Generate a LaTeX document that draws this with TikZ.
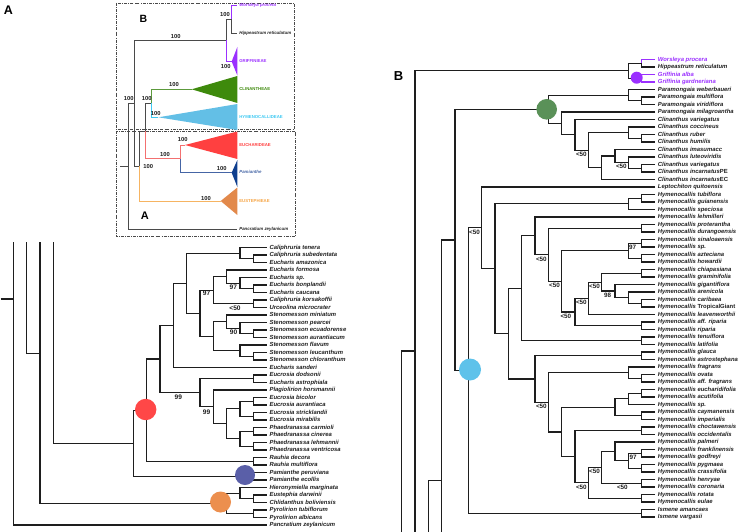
\documentclass[tikz,border=0pt]{standalone}
\usepackage{fontspec}
\setmainfont{Liberation Sans}
\definecolor{tl}{HTML}{1E1E1E}
\definecolor{pur}{HTML}{9B30FF}
\definecolor{cred}{HTML}{FF4747}
\definecolor{cblue}{HTML}{5A5FA8}
\definecolor{corg}{HTML}{EC8F4E}
\definecolor{cgrn}{HTML}{5A9158}
\definecolor{ccyan}{HTML}{5EC2EA}
\definecolor{igray}{HTML}{4A4A4A}
\definecolor{igl}{HTML}{5C9A3C}
\definecolor{igf}{HTML}{3E8A0C}
\definecolor{icl}{HTML}{3FC9F2}
\definecolor{icf}{HTML}{63BFE6}
\definecolor{irl}{HTML}{F37070}
\definecolor{irf}{HTML}{FF4040}
\definecolor{inl}{HTML}{4565A5}
\definecolor{inf}{HTML}{0E3E8E}
\definecolor{iol}{HTML}{F6B462}
\definecolor{iof}{HTML}{E2894B}
\definecolor{iot}{HTML}{F5A445}
\newcommand\tbr[3][]{\draw[br,#1] (#2) |- (#3.west);}
\newcommand\cl[4][]{\draw[br,#1] (#3.west) -| (#2) |- (#4.west);}
\newcommand\ibrn[3][]{\draw[ibr,#1] (#2) |- (#3);}
\begin{document}
\begin{tikzpicture}[x=1pt,y=-1pt,
 br/.style={draw=tl,line width=1.15pt},
 ibr/.style={draw=igray,line width=0.8pt},
 lf/.style={anchor=west,inner xsep=2.7pt,inner ysep=0pt,text height=4.4pt,text depth=1.2pt,font=\fontsize{5.9}{7}\selectfont\bfseries\itshape,text=tl},
 bsl/.style={inner sep=0pt,font=\fontsize{6.6}{7}\selectfont\bfseries,text=tl},
 bsr/.style={anchor=north west,inner sep=0pt,font=\fontsize{6.3}{7}\selectfont\bfseries,text=tl},
 il/.style={anchor=west,inner xsep=1.8pt,inner ysep=0pt,text height=3pt,text depth=0.8pt,font=\fontsize{4.3}{5}\selectfont\bfseries},
 ili/.style={il,font=\fontsize{4.4}{5}\selectfont\bfseries\itshape},
 ihund/.style={inner sep=0pt,font=\fontsize{5.8}{6}\selectfont\bfseries,text=tl},
 bubble/.style={circle,inner sep=0pt,draw=none},
 ibox/.style={draw=igray,line width=0.6pt,dash pattern=on 3pt off 1.2pt on 0.7pt off 1.2pt},
]
\useasboundingbox (0,0) rectangle (746,532);

% ---------------- panel letters
\node[inner sep=0pt,font=\fontsize{12.5}{14}\selectfont\bfseries] (PA) at (8.5,10.5) {A};
\node[inner sep=0pt,font=\fontsize{13}{15}\selectfont\bfseries] (PB) at (398.5,76.2) {B};

% ---------------- inset
\draw[ibox] (116,3) rectangle (294,129.5);
\draw[ibox] (116,131) rectangle (295.7,236);
\node[inner sep=0pt,font=\fontsize{10.5}{12}\selectfont\bfseries] (IB) at (143.3,18.8) {B};
\node[inner sep=0pt,font=\fontsize{11}{12}\selectfont\bfseries] (IA) at (144.8,216) {A};

\coordinate (iS) at (120,166.15);
\coordinate (iR) at (128.33,166.15);
\coordinate (iN1) at (134,103.3);
\coordinate (iN6) at (226,40.5);
\coordinate (iN7) at (231.67,19.5);
\coordinate (iN2) at (139.33,166.05);
\coordinate (iN3) at (145,131.1);
\coordinate (iN4) at (151.67,103.3);
\coordinate (iN5) at (180,158.85);
\coordinate (tG) at (231.67,61.5);
\coordinate (tC) at (191.67,89.3);
\coordinate (tY) at (158.33,117.3);
\coordinate (tE) at (185,145);
\coordinate (tP) at (231.67,172.7);
\coordinate (tU) at (220.67,201);

\fill[pur] (tG) -- (237.33,47) -- (237.33,75.5) -- cycle;
\fill[igf] (tC) -- (237.33,76) -- (237.33,103) -- cycle;
\fill[icf] (tY) -- (237.33,104) -- (237.33,130) -- cycle;
\fill[irf] (tE) -- (237.33,131.5) -- (237.33,159) -- cycle;
\fill[inf] (tP) -- (237.33,160) -- (237.33,187) -- cycle;
\fill[iof] (tU) -- (237.33,187.5) -- (237.33,215) -- cycle;

\node[ili,text=pur] (LW) at (237.33,5.7) {Worsleya procera};
\node[ili,text=tl] (LH) at (237.33,33.3) {Hippeastrum reticulatum};
\node[il,text=pur] (LG) at (237.33,61.5) {GRIFFINIEAE};
\node[il,text=igf] (LC) at (237.33,89.3) {CLINANTHEAE};
\node[il,text=icl] (LY) at (237.33,117.3) {HYMENOCALLIDEAE};
\node[il,text=irf] (LE) at (237.33,145) {EUCHARIDEAE};
\node[ili,text=inl] (LP) at (237.33,172.7) {Pamianthe};
\node[il,text=iot] (LU) at (237.33,201) {EUSTEPHIEAE};
\node[ili,text=tl] (LZ) at (237.33,229) {Pancratium zeylanicum};

\draw[ibr] (iS) -- (iR);
\ibrn{iR}{iN1} \ibrn{iR}{LZ.west}
\ibrn{iN1}{iN6} \ibrn{iN1}{iN2}
\ibrn{iN6}{iN7} \ibrn[draw=pur]{iN6}{tG}
\ibrn[draw=pur]{iN7}{LW.west} \ibrn{iN7}{LH.west}
\ibrn{iN2}{iN3} \ibrn[draw=iol]{iN2}{tU}
\ibrn{iN3}{iN4} \ibrn[draw=irl]{iN3}{iN5}
\ibrn[draw=igl]{iN4}{tC} \ibrn[draw=icl]{iN4}{tY}
\ibrn[draw=irl]{iN5}{tE} \ibrn[draw=inl]{iN5}{tP}

\node[ihund] at (225,15) {100};
\node[ihund] at (175.7,36.7) {100};
\node[ihund] at (225.7,66.2) {100};
\node[ihund] at (128.7,98.8) {100};
\node[ihund] at (146.7,98.8) {100};
\node[ihund] at (174,85) {100};
\node[ihund] at (155.7,113.3) {100};
\node[ihund] at (148.3,166.7) {100};
\node[ihund] at (165,155) {100};
\node[ihund] at (182.7,139.2) {100};
\node[ihund] at (221.7,169) {100};
\node[ihund] at (206,198.3) {100};

% ---------------- left tree (panel A)
\node[lf] (A1) at (266.67,247.5) {Caliphruria tenera};
\node[lf] (A2) at (266.67,255) {Caliphruria subedentata};
\node[lf] (A3) at (266.67,262.5) {Eucharis amazonica};
\node[lf] (A4) at (266.67,270) {Eucharis formosa};
\node[lf] (A5) at (266.67,277.5) {Eucharis sp.};
\node[lf] (A6) at (266.67,285) {Eucharis bonplandii};
\node[lf] (A7) at (266.67,292.5) {Eucharis caucana};
\node[lf] (A8) at (266.67,300) {Caliphruria korsakoffii};
\node[lf] (A9) at (266.67,307.5) {Urceolina microcrater};
\node[lf] (A10) at (266.67,315) {Stenomesson miniatum};
\node[lf] (A11) at (266.67,322.5) {Stenomesson pearcei};
\node[lf] (A12) at (266.67,330) {Stenomesson ecuadorense};
\node[lf] (A13) at (266.67,337.5) {Stenomesson aurantiacum};
\node[lf] (A14) at (266.67,345) {Stenomesson flavum};
\node[lf] (A15) at (266.67,352.5) {Stenomesson leucanthum};
\node[lf] (A16) at (266.67,360) {Stenomesson chloranthum};
\node[lf] (A17) at (266.67,367.5) {Eucharis sanderi};
\node[lf] (A18) at (266.67,375) {Eucrosia dodsonii};
\node[lf] (A19) at (266.67,382.5) {Eucharis astrophiala};
\node[lf] (A20) at (266.67,390) {Plagiolirion horsmannii};
\node[lf] (A21) at (266.67,397.5) {Eucrosia bicolor};
\node[lf] (A22) at (266.67,405) {Eucrosia aurantiaca};
\node[lf] (A23) at (266.67,412.5) {Eucrosia stricklandii};
\node[lf] (A24) at (266.67,420) {Eucrosia mirabilis};
\node[lf] (A25) at (266.67,427.5) {Phaedranassa carmioli};
\node[lf] (A26) at (266.67,435) {Phaedranassa cinerea};
\node[lf] (A27) at (266.67,442.5) {Phaedranassa lehmannii};
\node[lf] (A28) at (266.67,450) {Phaedranassa ventricosa};
\node[lf] (A29) at (266.67,457.5) {Rauhia decora};
\node[lf] (A30) at (266.67,465) {Rauhia multiflora};
\node[lf] (A31) at (266.67,472.5) {Pamianthe peruviana};
\node[lf] (A32) at (266.67,480) {Pamianthe ecollis};
\node[lf] (A33) at (266.67,487.5) {Hieronymiella marginata};
\node[lf] (A34) at (266.67,495) {Eustephia darwinii};
\node[lf] (A35) at (266.67,502.5) {Chlidanthus boliviensis};
\node[lf] (A36) at (266.67,510) {Pyrolirion tubiflorum};
\node[lf] (A37) at (266.67,517.5) {Pyrolirion albicans};
\node[lf] (A38) at (266.67,525) {Pancratium zeylanicum};

\coordinate (a1) at (253.33,258.75);
\coordinate (a2) at (240,253.125);
\coordinate (e1) at (253.33,288.75);
\coordinate (e2) at (240,283.125);
\coordinate (e3) at (226.67,276.56);
\coordinate (e4) at (253.33,303.75);
\coordinate (e5) at (213.33,290.16);
\coordinate (s1) at (253.33,333.75);
\coordinate (s2) at (240,328.125);
\coordinate (s3) at (226.67,321.56);
\coordinate (s4) at (253.33,356.25);
\coordinate (s5) at (240,350.625);
\coordinate (s6) at (213.33,336.09);
\coordinate (c1) at (200,313.125);
\coordinate (c2) at (186.67,283.125);
\coordinate (c3) at (173.33,325.31);
\coordinate (d1) at (253.33,378.75);
\coordinate (p1) at (253.33,401.25);
\coordinate (p2) at (253.33,416.25);
\coordinate (p3) at (240,408.75);
\coordinate (p4) at (253.33,431.25);
\coordinate (p5) at (253.33,446.25);
\coordinate (p6) at (240,438.75);
\coordinate (p7) at (226.67,423.75);
\coordinate (p8) at (213.33,406.875);
\coordinate (p9) at (200,392.81);
\coordinate (c4) at (160,359.06);
\coordinate (r1) at (253.33,461.25);
\coordinate (c5) at (146.67,410.16);
\coordinate (pm) at (253.33,476.25);
\coordinate (c6) at (133.33,443.2);
\coordinate (u1) at (253.33,498.75);
\coordinate (u2) at (240,493.125);
\coordinate (u3) at (253.33,513.75);
\coordinate (u4) at (226.67,503.44);
\coordinate (L4t) at (53.33,242);
\coordinate (L3t) at (40,242);
\coordinate (L2t) at (26.67,242);
\coordinate (L1t) at (13.33,242);
\coordinate (L3m) at (40,353.3);
\coordinate (L0) at (0.5,299);
\coordinate (L1r) at (13.33,299);

\cl{a1}{A2}{A3} \cl{a2}{A1}{a1}
\cl{e1}{A6}{A7} \cl{e2}{A5}{e1} \cl{e3}{A4}{e2} \cl{e4}{A8}{A9} \cl{e5}{e3}{e4}
\cl{s1}{A12}{A13} \cl{s2}{A11}{s1} \cl{s3}{A10}{s2} \cl{s4}{A15}{A16}
\cl{s5}{A14}{s4} \cl{s6}{s3}{s5}
\cl{c1}{e5}{s6} \cl{c2}{a2}{c1} \cl{c3}{c2}{A17}
\cl{d1}{A18}{A19} \cl{p1}{A21}{A22} \cl{p2}{A23}{A24} \cl{p3}{p1}{p2}
\cl{p4}{A25}{A26} \cl{p5}{A27}{A28} \cl{p6}{p4}{p5} \cl{p7}{p3}{p6}
\cl{p8}{A20}{p7} \cl{p9}{d1}{p8}
\cl{c4}{c3}{p9} \cl{r1}{A29}{A30} \cl{c5}{c4}{r1} \cl{pm}{A31}{A32} \cl{c6}{c5}{pm}
\cl{u1}{A34}{A35} \cl{u2}{A33}{u1} \cl{u3}{A36}{A37} \cl{u4}{u2}{u3}
\tbr{L4t}{c6} \tbr{L3t}{u4} \tbr{L2t}{L3m} \tbr{L1t}{A38}
\draw[br] (L0) -- (L1r);

\node[bsl] at (233.3,286.9) {97};
\node[bsl] at (206.5,293.7) {97};
\node[bsl] at (235,307.8) {<50};
\node[bsl] at (233.5,331.8) {90};
\node[bsl] at (178.3,396.8) {99};
\node[bsl] at (206.5,411.8) {99};

\node[bubble,fill=cred,minimum size=21.4pt] (Ored) at (145.7,409.5) {};
\node[bubble,fill=cblue,minimum size=20pt] (Oblue) at (245,475) {};
\node[bubble,fill=corg,minimum size=21pt] (Oorg) at (220.5,502) {};

% ---------------- right tree (panel B)
\node[lf,text=pur] (B1) at (655,59.5) {Worsleya procera};
\node[lf] (B2) at (655,67) {Hippeastrum reticulatum};
\node[lf,text=pur] (B3) at (655,74.5) {Griffinia alba};
\node[lf,text=pur] (B4) at (655,82) {Griffinia gardneriana};
\node[lf] (B5) at (655,89.5) {Paramongaia weberbaueri};
\node[lf] (B6) at (655,97) {Paramongaia multiflora};
\node[lf] (B7) at (655,104.5) {Paramongaia viridiflora};
\node[lf] (B8) at (655,112) {Paramongaia milagroantha};
\node[lf] (B9) at (655,119.5) {Clinanthus variegatus};
\node[lf] (B10) at (655,127) {Clinanthus coccineus};
\node[lf] (B11) at (655,134.5) {Clinanthus ruber};
\node[lf] (B12) at (655,142) {Clinanthus humilis};
\node[lf] (B13) at (655,149.5) {Clinanthus imasumacc};
\node[lf] (B14) at (655,157) {Clinanthus luteoviridis};
\node[lf] (B15) at (655,164.5) {Clinanthus variegatus};
\node[lf] (B16) at (655,172) {Clinanthus incarnatus\upshape PE};
\node[lf] (B17) at (655,179.5) {Clinanthus incarnatus\upshape EC};
\node[lf] (B18) at (655,187) {Leptochiton quitoensis};
\node[lf] (B19) at (655,194.5) {Hymenocallis tubiflora};
\node[lf] (B20) at (655,202) {Hymenocallis guianensis};
\node[lf] (B21) at (655,209.5) {Hymenocallis speciosa};
\node[lf] (B22) at (655,217) {Hymenocallis lehmilleri};
\node[lf] (B23) at (655,224.5) {Hymenocallis proterantha};
\node[lf] (B24) at (655,232) {Hymenocallis durangoensis};
\node[lf] (B25) at (655,239.5) {Hymenocallis sinaloaensis};
\node[lf] (B26) at (655,247) {Hymenocallis sp.};
\node[lf] (B27) at (655,254.5) {Hymenocallis azteciana};
\node[lf] (B28) at (655,262) {Hymenocallis howardii};
\node[lf] (B29) at (655,269.5) {Hymenocallis chiapasiana};
\node[lf] (B30) at (655,277) {Hymenocallis graminifolia};
\node[lf] (B31) at (655,284.5) {Hymenocallis gigantiflora};
\node[lf] (B32) at (655,292) {Hymenocallis arenicola};
\node[lf] (B33) at (655,299.5) {Hymenocallis caribaea};
\node[lf] (B34) at (655,307) {Hymenocallis \upshape TropicalGiant};
\node[lf] (B35) at (655,314.5) {Hymenocallis leavenworthii};
\node[lf] (B36) at (655,322) {Hymenocallis aff. riparia};
\node[lf] (B37) at (655,329.5) {Hymenocallis riparia};
\node[lf] (B38) at (655,337) {Hymenocallis tenuiflora};
\node[lf] (B39) at (655,344.5) {Hymenocallis latifolia};
\node[lf] (B40) at (655,352) {Hymenocallis glauca};
\node[lf] (B41) at (655,359.5) {Hymenocallis astrostephana};
\node[lf] (B42) at (655,367) {Hymenocallis fragrans};
\node[lf] (B43) at (655,374.5) {Hymenocallis ovata};
\node[lf] (B44) at (655,382) {Hymenocallis aff. fragrans};
\node[lf] (B45) at (655,389.5) {Hymenocallis eucharidifolia};
\node[lf] (B46) at (655,397) {Hymenocallis acutifolia};
\node[lf] (B47) at (655,404.5) {Hymenocallis sp.};
\node[lf] (B48) at (655,412) {Hymenocallis caymanensis};
\node[lf] (B49) at (655,419.5) {Hymenocallis imperialis};
\node[lf] (B50) at (655,427) {Hymenocallis choctawensis};
\node[lf] (B51) at (655,434.5) {Hymenocallis occidentalis};
\node[lf] (B52) at (655,442) {Hymenocallis palmeri};
\node[lf] (B53) at (655,449.5) {Hymenocallis franklinensis};
\node[lf] (B54) at (655,457) {Hymenocallis godfreyi};
\node[lf] (B55) at (655,464.5) {Hymenocallis pygmaea};
\node[lf] (B56) at (655,472) {Hymenocallis crassifolia};
\node[lf] (B57) at (655,479.5) {Hymenocallis henryae};
\node[lf] (B58) at (655,487) {Hymenocallis coronaria};
\node[lf] (B59) at (655,494.5) {Hymenocallis rotata};
\node[lf] (B60) at (655,502) {Hymenocallis eulae};
\node[lf] (B61) at (655,509.5) {Ismene amancaes};
\node[lf] (B62) at (655,517) {Ismene vargasii};

\coordinate (h1) at (641.67,63.25);
\coordinate (h2) at (641.67,78.25);
\coordinate (h3) at (628.33,70.75);
\coordinate (rt) at (415,70.75);
\coordinate (rb) at (415,532);
\coordinate (q1) at (641.67,100.75);
\coordinate (q2) at (628.33,95.125);
\coordinate (q3) at (641.67,138.25);
\coordinate (q4) at (628.33,132.625);
\coordinate (q5) at (641.67,168.25);
\coordinate (q6) at (628.33,162.625);
\coordinate (q7) at (615,156.06);
\coordinate (q8) at (601.67,167.78);
\coordinate (q9) at (588.33,150.2);
\coordinate (q10) at (575,134.85);
\coordinate (q11) at (561.67,123.43);
\coordinate (q12) at (548.33,109.28);
\coordinate (g1) at (641.67,198.25);
\coordinate (g2) at (628.33,203.875);
\coordinate (g3) at (641.67,228.25);
\coordinate (g4) at (641.67,243.25);
\coordinate (g5) at (641.67,258.25);
\coordinate (g6) at (628.33,250.75);
\coordinate (g7) at (641.67,273.25);
\coordinate (g8) at (641.67,303.25);
\coordinate (g9) at (628.33,297.625);
\coordinate (g10) at (615,291.06);
\coordinate (g11) at (601.67,282.16);
\coordinate (g12) at (588.33,298.33);
\coordinate (g13) at (641.67,325.75);
\coordinate (g14) at (575,312.04);
\coordinate (g15) at (561.67,281.4);
\coordinate (g16) at (548.33,254.8);
\coordinate (g17) at (535,235.9);
\coordinate (g18) at (641.67,340.75);
\coordinate (g19) at (521.67,288.33);
\coordinate (g20) at (641.67,355.75);
\coordinate (g21) at (641.67,378.25);
\coordinate (g22) at (628.33,372.625);
\coordinate (g23) at (641.67,393.25);
\coordinate (g24) at (628.33,398.875);
\coordinate (g25) at (641.67,415.75);
\coordinate (g26) at (615,407.31);
\coordinate (g27) at (641.67,430.75);
\coordinate (g28) at (641.67,453.25);
\coordinate (g29) at (641.67,468.25);
\coordinate (g30) at (628.33,460.75);
\coordinate (g31) at (615,451.375);
\coordinate (g32) at (641.67,483.25);
\coordinate (g33) at (601.67,467.31);
\coordinate (g34) at (641.67,498.25);
\coordinate (g35) at (588.33,482.78);
\coordinate (g36) at (575,456.77);
\coordinate (g37) at (561.67,432.04);
\coordinate (g38) at (548.33,402.33);
\coordinate (g39) at (535,379.04);
\coordinate (g40) at (508.33,333.69);
\coordinate (g41) at (495,268.78);
\coordinate (g42) at (481.67,227.89);
\coordinate (g43) at (641.67,513.25);
\coordinate (g44) at (468.33,370.57);
\coordinate (g45) at (455,239.93);
\coordinate (k4t) at (441.67,239.93);
\coordinate (k4b) at (441.67,532);
\coordinate (k3t) at (428.33,480.7);
\coordinate (k3b) at (428.33,532);
\coordinate (k3j) at (441.67,480.7);
\coordinate (k1t) at (401.67,351);
\coordinate (k1b) at (401.67,532);
\coordinate (k1j) at (415,351);

\tbr[draw=pur]{h1}{B1} \tbr{h1}{B2}
\cl[draw=pur]{h2}{B3}{B4}
\cl{h3}{h1}{h2}
\draw[br] (h3) -| (rt) -- (rb);
\cl{q1}{B6}{B7} \cl{q2}{B5}{q1} \cl{q3}{B11}{B12} \cl{q4}{B10}{q3}
\cl{q5}{B15}{B16} \cl{q6}{B14}{q5} \cl{q7}{B13}{q6} \cl{q8}{q7}{B17}
\cl{q9}{q4}{q8} \cl{q10}{B9}{q9} \cl{q11}{B8}{q10} \cl{q12}{q2}{q11}
\cl{g1}{B19}{B20} \cl{g2}{g1}{B21} \cl{g3}{B23}{B24}
\cl{g4}{B25}{B26} \cl{g5}{B27}{B28} \cl{g6}{g4}{g5}
\cl{g7}{B29}{B30} \cl{g8}{B33}{B34} \cl{g9}{B32}{g8} \cl{g10}{B31}{g9}
\cl{g11}{g7}{g10} \cl{g12}{g11}{B35} \cl{g13}{B36}{B37} \cl{g14}{g12}{g13}
\cl{g15}{g6}{g14} \cl{g16}{g3}{g15} \cl{g17}{B22}{g16} \cl{g18}{B38}{B39}
\cl{g19}{g17}{g18} \cl{g20}{B40}{B41}
\cl{g21}{B43}{B44} \cl{g22}{B42}{g21} \cl{g23}{B45}{B46} \cl{g24}{g23}{B47}
\cl{g25}{B48}{B49} \cl{g26}{g24}{g25} \cl{g27}{B50}{B51}
\cl{g28}{B53}{B54} \cl{g29}{B55}{B56} \cl{g30}{g28}{g29} \cl{g31}{B52}{g30}
\cl{g32}{B57}{B58} \cl{g33}{g31}{g32} \cl{g34}{B59}{B60} \cl{g35}{g33}{g34}
\cl{g36}{g27}{g35} \cl{g37}{g26}{g36} \cl{g38}{g22}{g37} \cl{g39}{g20}{g38}
\cl{g40}{g19}{g39} \cl{g41}{g2}{g40} \cl{g42}{B18}{g41} \cl{g43}{B61}{B62}
\cl{g44}{g42}{g43} \cl{g45}{q12}{g44}
\draw[br] (g45) -| (k4t) -- (k4b);
\draw[br] (k3b) -- (k3t) -- (k3j);
\draw[br] (k1b) -- (k1t) -- (k1j);

\node[bsr] at (575.8,151.8) {<50};
\node[bsr] at (615.8,164.2) {<50};
\node[bsr] at (469,229.8) {<50};
\node[bsr] at (535.8,256.5) {<50};
\node[bsr] at (549,283) {<50};
\node[bsr] at (629,245) {97};
\node[bsr] at (560.3,314) {<50};
\node[bsr] at (575.8,300) {<50};
\node[bsr] at (589,284) {<50};
\node[bsr] at (604,293) {98};
\node[bsr] at (535.8,404.2) {<50};
\node[bsr] at (575.8,484.5) {<50};
\node[bsr] at (589,469) {<50};
\node[bsr] at (616.8,485) {<50};
\node[bsr] at (629.5,455) {97};

\node[bubble,fill=pur,minimum size=12pt] (Opur) at (636.7,77.7) {};
\node[bubble,fill=cgrn,minimum size=20.6pt] (Ogrn) at (546.7,109.3) {};
\node[bubble,fill=ccyan,minimum size=22pt] (Ocyan) at (470,369.5) {};
\end{tikzpicture}
\end{document}
